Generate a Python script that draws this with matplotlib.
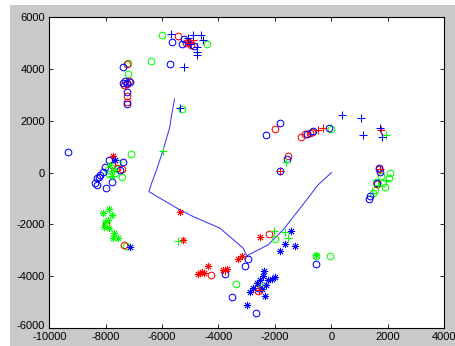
import matplotlib
matplotlib.use("Agg")
import matplotlib.pyplot as plt
import matplotlib.transforms as mtransforms
from matplotlib.patches import Rectangle

plt.rcParams['font.family'] = ['Liberation Sans', 'DejaVu Sans']
plt.rcParams['axes.unicode_minus'] = False

# ---- data ----
blue_circle_x = [-5662, -5226, -5279, -4872, -5722,
                 -7377, -7317, -7257, -7400, -7140, -7236, -7257,
                 -9350, -7873, -8026, -8086, -8203, -8320, -8380, -8320, -7990, -7790, -7377, -7494, -8239,
                 -2320, -1810, -842, -644, -87, -1576, -1824,
                 1695, 1720, 1624, 1390, 1340,
                 -3773, -2969, -3064, -3536, -2685, -2593, -523]
blue_circle_y = [5035, 5163, 4970, 4892, 4186,
                 4070, 3553, 3476, 3476, 3515, 3129, 2643,
                 790, 493, 235, 42, -86, -213, -383, -471, -600, -344, 427, 107, -174,
                 1458, 1910, 1497, 1612, 1716, 532, 80,
                 173, 42, -406, -920, -1023,
                 -3918, -3327, -3597, -4813, -5404, -4458, -3520]

red_circle_x = [-5450, -5084, -4978, -5150,
                -7257, -7165, -7353, -7236, -7257, -7257,
                -7611, -7434, -7790, -7990, -7353,
                -2000, -1080, -940, -760, -680, -1530,
                1700, 1630,
                -4280, -2203, -2593]
red_circle_y = [5278, 5047, 4931, 4990,
                4186, 3553, 3387, 3414, 2963, 2731,
                173, 134, 300, -1988, -2787,
                1678, 1392, 1485, 1547, 1580, 648,
                127, -432,
                -3956, -2374, -4562]

green_circle_x = [-5995, -4390, -6396, -5308,
                  -7220, -7200,
                  -7100, -7909, -7672, -7434, -7555, -7873, -7282,
                  -18,
                  2074, 2050, 1602, 1837, 1542, 1482, 1897, 1755,
                  -1977, -3383, -2497, -523, -41]
green_circle_y = [5305, 4970, 4314, 2450,
                  4248, 3812,
                  713, 107, -22, -151, 366, -47, -2852,
                  1690,
                  3, -213, -344, -406, -665, -792, -570, -125,
                  -2567, -4292, -4420, -3211, -3238]

red_plus_x = [-5014, -4907, -467, -290, -1824, 1780, 1720, -3773, -2560]
red_plus_y = [5047, 5124, 1651, 1716, 80, 1650, 150, -3817, -4520]

green_plus_x = [-5960, -5428, -2026, -1647, -1530, -1611, 1950, 1957, 1650]
green_plus_y = [852, -2659, -2235, -2274, -2528, 428, 1458, -279, -470]

blue_plus_x = [-5698, -4918, -4635, -4776, -4755, -4776, -4542, -5215, -5084, -5014,
               -5368, 384, 1071, 1130, 1720, 1815]
blue_plus_y = [5356, 5317, 5317, 4865, 4673, 4545, 5124, 4082, 5200, 4970,
               2488, 2210, 2102, 1458, 1740, 1361]

red_star_x = [-7750, -5368, -5250, -4376, -4599, -4517, -4659, -4712, -3833, -3713,
              -3324, -3182, -2533, -5050]
red_star_y = [659, -1525, -2594, -3624, -3841, -3879, -3879, -3925, -3779, -3725,
              -3339, -3200, -2498, 5020]

green_star_x = [-7849, -7707, -7778, -7874, -8108, -7790, -8026, -7909, -8062, -7884,
                -7707, -7731, -7555, -523]
green_star_y = [300, 107, -125, -1398, -1564, -1630, -1888, -1822, -2081, -2119,
                -2335, -2528, -2528, -3180]

blue_star_x = [-7672, -7130, -1410, -1647, -1292, -1814, -2380, -2437, -2533, -2650,
               -2770, -2870, -2239, -2118, -2001, -2296, -2473, -2356, -3004]
blue_star_y = [493, -2876, -2235, -2768, -2814, -3030, -3790, -4010, -4138, -4265,
               -4458, -4620, -4138, -4111, -4033, -4330, -4496, -4755, -5129]

path_x = [-5556, -5662, -5722, -5960, -6194, -6371, -6467, -6077, -5368, -4897,
          -3950, -3125, -2994, -2239, -1707, -1055, -467, 8]
path_y = [2847, 2230, 1778, 879, 107, -406, -730, -985, -1436, -1695,
          -2142, -2914, -3211, -2787, -2208, -1309, -471, 3]

x_ticks = [-10000, -8000, -6000, -4000, -2000, 0, 2000, 4000]
y_ticks = [-6000, -4000, -2000, 0, 2000, 4000, 6000]

# ---- figure ----
fig = plt.figure(figsize=(4.55, 3.46), dpi=100, facecolor='white')
bg = Rectangle((10 / 455, 0), 445 / 455, 341 / 346, transform=fig.transFigure,
               facecolor='#c9c9c9', edgecolor='none', zorder=-10)
fig.add_artist(bg)
ax = fig.add_axes([49.3 / 455, 18 / 346, 394.7 / 455, 310.7 / 346])
ax.set_zorder(1)
ax.set_facecolor('white')

ax.plot(path_x, path_y, color='#3838ff', lw=0.75, zorder=2)

circ = dict(marker='o', ls='none', ms=4.8, mfc='none', mew=0.75)
plus = dict(marker='+', ls='none', ms=6, mew=0.75)
star = dict(marker=(8, 2, 0), ls='none', ms=5.2, mew=0.6)

ax.plot(green_circle_x, green_circle_y, color='#00ff00', **circ, zorder=3)
ax.plot(red_circle_x, red_circle_y, color='#ff0000', **circ, zorder=3)
ax.plot(blue_circle_x, blue_circle_y, color='#0000ff', **circ, zorder=3)
ax.plot(green_star_x, green_star_y, color='#00ff00', **star, zorder=4)
ax.plot(red_star_x, red_star_y, color='#ff0000', **star, zorder=4)
ax.plot(blue_star_x, blue_star_y, color='#0000ff', **star, zorder=4)
ax.plot(green_plus_x, green_plus_y, color='#00ff00', **plus, zorder=4)
ax.plot(red_plus_x, red_plus_y, color='#ff0000', **plus, zorder=4)
ax.plot(blue_plus_x, blue_plus_y, color='#0000ff', **plus, zorder=4)

ax.set_xlim(-10000, 4000)
ax.set_ylim(-6000, 6000)
ax.set_xticks(x_ticks)
ax.set_yticks(y_ticks)
ax.tick_params(direction='in', length=3, width=0.6, top=True, right=True,
               labelsize=8, colors='black')
ax.tick_params(axis='x', pad=3)
ax.tick_params(axis='y', pad=3)
for s in ax.spines.values():
    s.set_linewidth(0.8)

# nudge the lowest y label up a little so it does not collide with the x labels
fig.canvas.draw()
lbl = ax.get_yticklabels()[0]
lbl.set_transform(lbl.get_transform() + mtransforms.ScaledTranslation(0, 3 / 100, fig.dpi_scale_trans))

fig.savefig('out.png', dpi=100, facecolor=fig.get_facecolor())
